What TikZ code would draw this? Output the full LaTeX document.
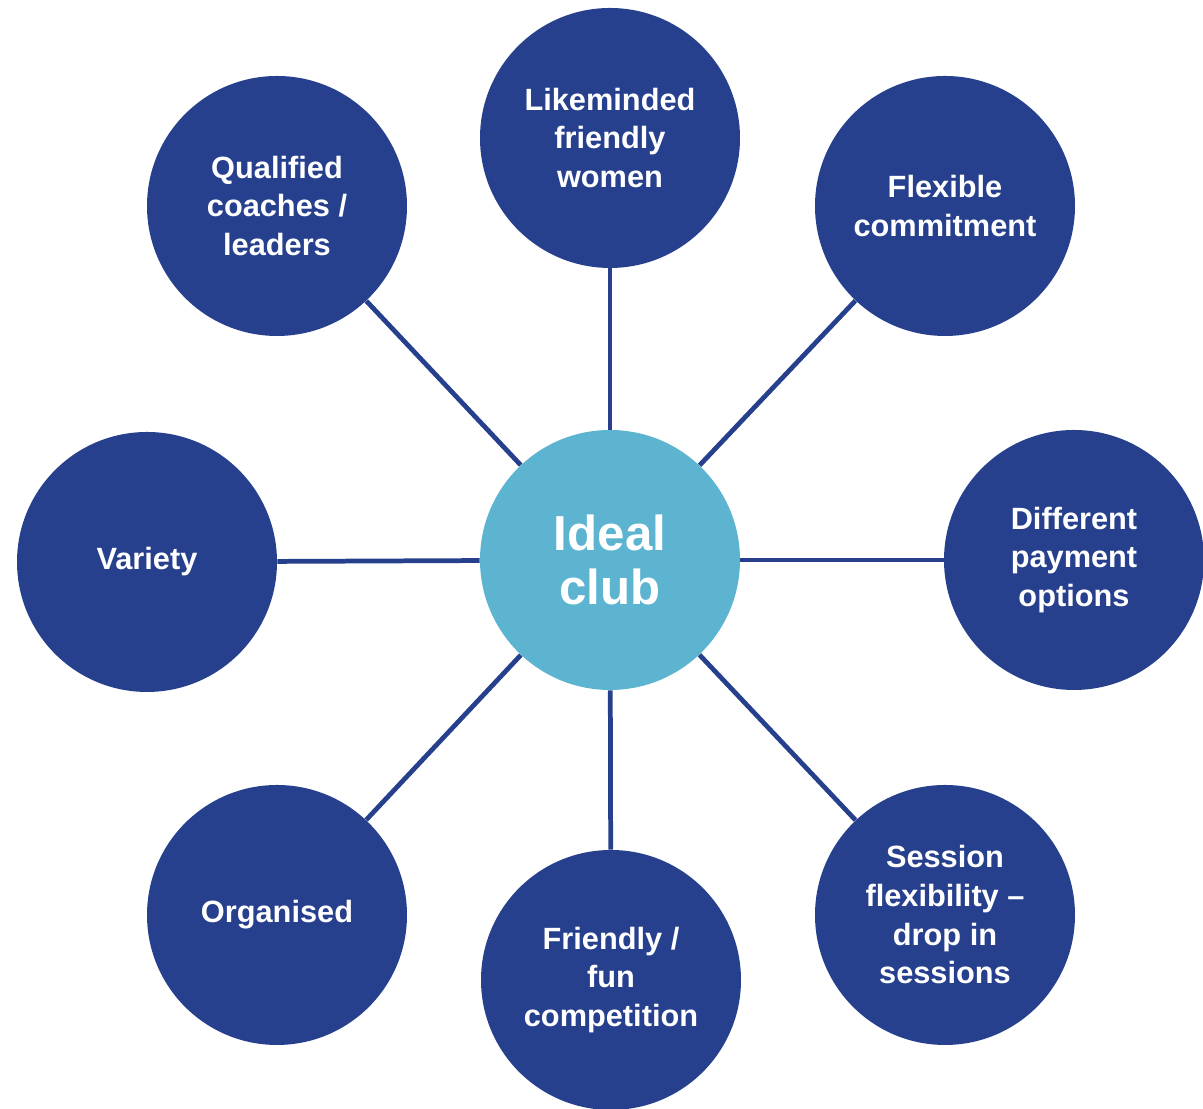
\documentclass[tikz,border=0pt]{standalone}
\usepackage{fontspec}
\setmainfont{Liberation Sans}
\usetikzlibrary{positioning}

\definecolor{clubnavy}{RGB}{39,64,142}
\definecolor{clubsky}{RGB}{92,180,209}

\tikzset{
    spoke/.style={circle, fill=clubnavy, minimum size=5.2cm, inner sep=0pt,
        text=white, align=center, font=\fontsize{17.5}{22}\selectfont\bfseries},
    hub/.style={circle, fill=clubsky, minimum size=5.2cm, inner sep=0pt,
        text=white, align=center, font=\fontsize{28}{31}\selectfont\bfseries},
    link/.style={clubnavy, line width=2.7pt}
}

\begin{document}
\begin{tikzpicture}[scale=1]
            \useasboundingbox (0,0) rectangle (24.06,22.18);
            \node[hub] (ideal) at (12.2,10.98) {Ideal\\club};
            \node[spoke] (likeminded) at (12.2,19.42) {Likeminded\\friendly\\women};
            \node[spoke] (qualified) at (5.54,18.06) {Qualified\\coaches /\\leaders};
            \node[spoke] (flexible) at (18.9,18.06) {Flexible\\commitment};
            \node[spoke] (variety) at (2.94,10.94) {Variety};
            \node[spoke] (payment) at (21.48,10.98) {Different\\payment\\options};
            \node[spoke] (organised) at (5.54,3.88) {Organised};
            \node[spoke] (friendly) at (12.22,2.58) {Friendly /\\fun\\competition};
            \node[spoke] (session) at (18.9,3.88) {Session\\flexibility --\\drop in\\sessions};
            \foreach \s in {likeminded,qualified,flexible,variety,payment,organised,friendly,session}
                \draw[link] (ideal) -- (\s);
\end{tikzpicture}
\end{document}
